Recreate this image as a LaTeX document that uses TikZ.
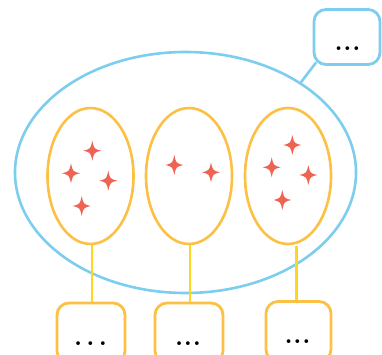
\documentclass[tikz,border=0pt]{standalone}
\usetikzlibrary{shapes.geometric,calc}
\definecolor{cblue}{RGB}{125,205,238}
\definecolor{corange}{RGB}{251,192,68}
\definecolor{cyellow}{RGB}{254,214,30}
\definecolor{cstar}{RGB}{238,99,82}
\tikzset{
  bigell/.style={ellipse, draw=cblue, line width=2.6pt, minimum width=341pt, minimum height=241pt, inner sep=0pt},
  smallell/.style={ellipse, draw=corange, line width=2.6pt, minimum width=86pt, minimum height=136pt, inner sep=0pt},
  obox/.style={rectangle, rounded corners=12pt, draw=corange, line width=2.8pt, minimum width=68pt, minimum height=60pt, inner sep=0pt},
  bbox/.style={rectangle, rounded corners=12pt, draw=cblue, line width=2.8pt, minimum width=66pt, minimum height=55pt, inner sep=0pt},
  yline/.style={draw=cyellow, line width=2.3pt},
  bline/.style={draw=cblue, line width=2.6pt},
  dots/.style={anchor=base, inner sep=0pt, font=\fontsize{26}{26}\selectfont\bfseries},
  spark/.pic={\fill[cstar] (0,-10) .. controls (1.8,-1.8) .. (9,0) .. controls (1.8,1.8) .. (0,10) .. controls (-1.8,1.8) .. (-9,0) .. controls (-1.8,-1.8) .. cycle;}
}
\begin{document}
\begin{tikzpicture}[x=1pt,y=-1pt]
\useasboundingbox (0,0) rectangle (382,355);
% big ellipse
\node[bigell] (big) at (185.5,172.5) {};
% inner ellipses
\node[smallell] (e1) at (90.5,176) {};
\node[smallell] (e2) at (189,176) {};
\node[smallell] (e3) at (288,176) {};
% stars
\pic at (92.3,150.7) {spark};
\pic at (71,173.3) {spark};
\pic at (108.3,180.7) {spark};
\pic at (81.7,206) {spark};
\pic at (174.3,165) {spark};
\pic at (211,172.3) {spark};
\pic at (292.3,145) {spark};
\pic at (271.7,167.3) {spark};
\pic at (308.3,175) {spark};
\pic at (282.3,200) {spark};
% top-right box
\node[bbox] (tr) at (347,37) {};
\node[dots] (dtr) at (347.5,51) {.\kern0.7pt.\kern0.7pt.};
\coordinate (trc) at ($(tr.south west)+(3.5,-3.5)$);
\draw[bline] (trc) -- (big.38.6);
% bottom boxes
\node[obox] (b1) at (91,333) {};
\node[obox] (b2) at (189,333) {};
\node[obox, minimum width=65pt] (b3) at (298.5,331.5) {};
\node[dots] (d1) at (90.5,345) {.\kern4.2pt.\kern4.2pt.};
\node[dots] (d2) at (188,345) {.\kern0.7pt.\kern0.7pt.};
\node[dots] (d3) at (297.5,343) {.\kern0.7pt.\kern0.7pt.};
% connectors
\draw[yline] (e1.south -| 91.7,0) -- (b1.north -| 91.7,0);
\draw[yline] (e2.south -| 190,0) -- (b2.north -| 190,0);
\coordinate (c3) at (296.5,246);
\draw[yline] (c3) -- (c3 |- b3.north);
\end{tikzpicture}
\end{document}
